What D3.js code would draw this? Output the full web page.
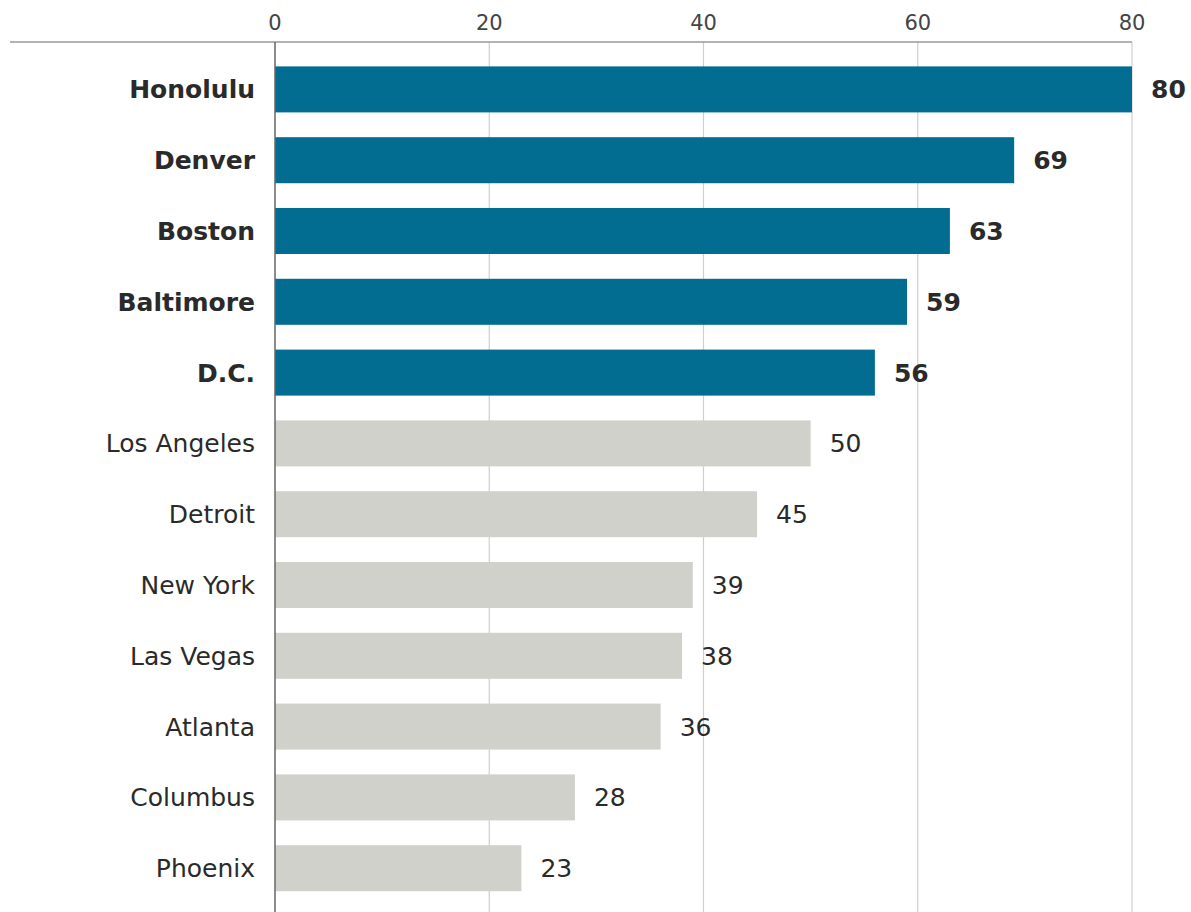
<!DOCTYPE html>
<html>
<head>
<meta charset="utf-8">
<script src="https://cdn.jsdelivr.net/npm/d3@7.9.0/dist/d3.min.js"></script>
<style>
  body { margin: 0; background: #fff; }
  svg { display: block; font-family: "DejaVu Sans", Verdana, sans-serif; }
</style>
</head>
<body>
<div id="chart"></div>
<script>
const cities = ['Honolulu', 'Denver', 'Boston', 'Baltimore', 'D.C.', 'Los Angeles',
  'Detroit', 'New York', 'Las Vegas', 'Atlanta', 'Columbus', 'Phoenix'];
const values = [80, 69, 63, 59, 56, 50, 45, 39, 38, 36, 28, 23];
const highlighted = ['Honolulu', 'Denver', 'Boston', 'Baltimore', 'D.C.'];
const xTicks = [0, 20, 40, 60, 80];

const data = cities.map((c, i) => ({ city: c, value: values[i], hi: highlighted.includes(c) }));

const width = 1191, height = 912;
const margin = { top: 42, right: 59, bottom: 0, left: 275 };

const svg = d3.select('#chart')
  .append('svg')
  .attr('width', width)
  .attr('height', height);

const x = d3.scaleLinear()
  .domain([0, 80])
  .range([margin.left, width - margin.right]);
const y = d3.scaleBand()
  .domain(cities)
  .range([54, 54 + 70.8 * cities.length])
  .paddingInner(0.35)
  .paddingOuter(0.175);

// grid lines
svg.append('g')
  .selectAll('line')
  .data(xTicks.filter(d => d > 0))
  .join('line')
    .attr('x1', d => x(d)).attr('x2', d => x(d))
    .attr('y1', margin.top).attr('y2', height)
    .attr('stroke', '#cfcfcf')
    .attr('stroke-width', 1.2);

// top rule + tick labels
svg.append('line')
  .attr('x1', 10).attr('x2', x(80))
  .attr('y1', margin.top).attr('y2', margin.top)
  .attr('stroke', '#9a9a9a')
  .attr('stroke-width', 1.5);

svg.append('g')
  .selectAll('text')
  .data(xTicks)
  .join('text')
    .attr('x', d => x(d))
    .attr('y', 30)
    .attr('text-anchor', 'middle')
    .attr('fill', '#444')
    .style('font-size', '21px')
    .text(d => d);

// bars
svg.append('g')
  .selectAll('rect')
  .data(data)
  .join('rect')
    .attr('x', x(0))
    .attr('y', d => y(d.city))
    .attr('width', d => x(d.value) - x(0))
    .attr('height', y.bandwidth())
    .attr('fill', d => d.hi ? '#036d91' : '#d1d1cc');

// zero line
svg.append('line')
  .attr('x1', x(0)).attr('x2', x(0))
  .attr('y1', margin.top).attr('y2', height)
  .attr('stroke', '#666')
  .attr('stroke-width', 1.5);

// city labels
svg.append('g')
  .selectAll('text')
  .data(data)
  .join('text')
    .attr('x', x(0) - 20)
    .attr('y', d => y(d.city) + y.bandwidth() / 2)
    .attr('dy', '0.36em')
    .attr('text-anchor', 'end')
    .attr('fill', '#2a2a2a')
    .style('font-size', '25px')
    .style('font-weight', d => d.hi ? 'bold' : 'normal')
    .text(d => d.city);

// value labels
svg.append('g')
  .selectAll('text')
  .data(data)
  .join('text')
    .attr('x', d => x(d.value) + 19)
    .attr('y', d => y(d.city) + y.bandwidth() / 2)
    .attr('dy', '0.36em')
    .attr('fill', '#2a2a2a')
    .style('font-size', '25px')
    .style('font-weight', d => d.hi ? 'bold' : 'normal')
    .text(d => d.value);
</script>
</body>
</html>
